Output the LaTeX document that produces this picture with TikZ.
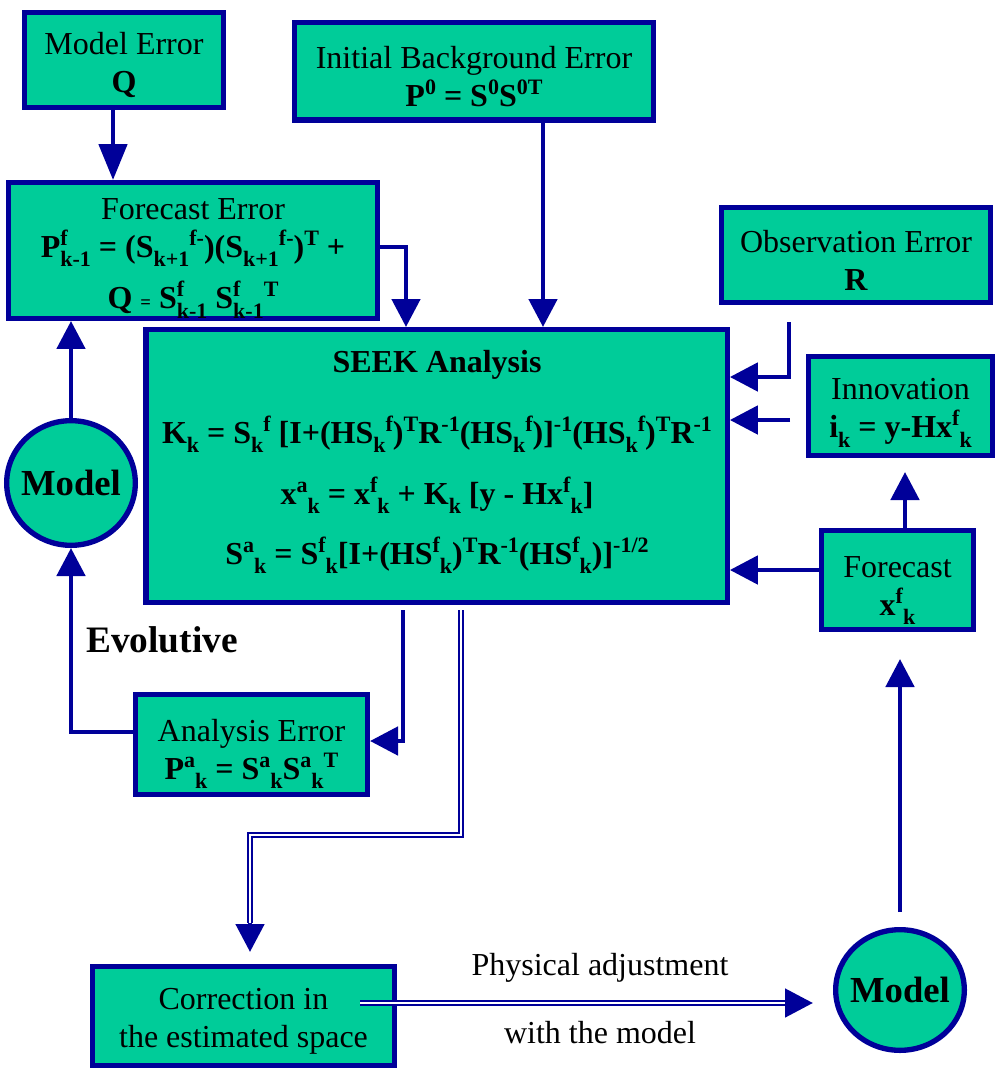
\documentclass[tikz,border=0pt]{standalone}
\usepackage{fontspec}
\setmainfont{Liberation Serif}
\usetikzlibrary{arrows.meta,shapes.geometric}
\definecolor{bxgreen}{RGB}{0,204,153}
\definecolor{bxblue}{RGB}{0,0,153}
\newcommand{\Up}[1]{\smash{\raisebox{0.37em}{\fontsize{16.5}{16.5}\selectfont #1}}}
\newcommand{\Dn}[1]{\smash{\raisebox{-0.3em}{\fontsize{16.5}{16.5}\selectfont #1}}}
\newcommand{\UpDn}[2]{\rlap{\Up{#1}}\Dn{#2}}
\newcommand{\Tp}{\rule{0pt}{24pt}}
\begin{document}
\begin{tikzpicture}[x=0.75pt,y=-0.75pt,
  box/.style={draw=bxblue, fill=bxgreen, line width=4pt, align=center, inner sep=0pt, font=\fontsize{24}{28.5}\selectfont},
  ell/.style={ellipse, draw=bxblue, fill=bxgreen, line width=4pt, inner sep=0pt, font=\bfseries\fontsize{27.5}{27.5}\selectfont},
  arr/.style={draw=bxblue, line width=3.6pt, -{Triangle[width=21pt,length=21pt]}},
  dbl/.style={draw=bxblue, line width=1.2pt, double=white, double distance=1.6pt},
  lbl/.style={font=\fontsize{24}{28.5}\selectfont, inner sep=0pt}]
\useasboundingbox (0,0) rectangle (997,1070);

\node[box, minimum width=149pt, minimum height=71pt] (mE) at (124,60) {\Tp Model Error\\\textbf{Q}};
\node[box, minimum width=269pt, minimum height=73pt] (iB) at (474,71.5) {\Tp Initial Background Error\\\textbf{P\Up{0} = S\Up{0}S\Up{0T}}};
\node[box, minimum width=276.5pt, minimum height=101.7pt] (fE) at (193,250.5) {\Tp Forecast Error\\\textbf{P\UpDn{f}{k-1} = (S\Dn{k+1}\Up{f-})(S\Dn{k+1}\Up{f-})\Up{T} +}\\[10pt]\textbf{Q {\fontsize{14}{14}\selectfont =} S\UpDn{f}{k-1} S\UpDn{f}{k-1}\Up{T}}};
\node[box, minimum width=436pt, minimum height=204.5pt] (seek) at (436.5,466) {};
\node[lbl, anchor=base] (seekT) at (437,372) {\textbf{SEEK Analysis}};
\node[lbl, anchor=base] (seekK) at (437,443) {\textbf{K\Dn{k} = S\Dn{k}\Up{f} [I+(HS\Dn{k}\Up{f})\Up{T}R\Up{-1}(HS\Dn{k}\Up{f})]\Up{-1}(HS\Dn{k}\Up{f})\Up{T}R\Up{-1}}};
\node[lbl, anchor=base] (seekX) at (437,504) {\textbf{x\Up{a}\Dn{k} = x\Up{f}\Dn{k} + K\Dn{k} [y - Hx\Up{f}\Dn{k}]}};
\node[lbl, anchor=base] (seekS) at (437,564) {\textbf{S\Up{a}\Dn{k} = S\Up{f}\Dn{k}[I+(HS\Up{f}\Dn{k})\Up{T}R\Up{-1}(HS\Up{f}\Dn{k})]\Up{-1/2}}};
\node[box, minimum width=201.5pt, minimum height=71pt] (oE) at (856,255) {\Tp Observation Error\\\textbf{R}};
\node[box, minimum width=137.75pt, minimum height=74pt] (inn) at (900.5,406) {\Tp Innovation\\\textbf{i\Dn{k} = y-Hx\Up{f}\Dn{k}}};
\node[box, minimum width=113.75pt, minimum height=74pt] (fc) at (897.5,580) {\Tp Forecast\\\textbf{x\Up{f}\Dn{k}}};
\node[box, minimum width=173.75pt, minimum height=74.75pt] (an) at (251.5,744.5) {\Tp Analysis Error\\\textbf{P\Up{a}\Dn{k} = S\Up{a}\Dn{k}S\Up{a}\Dn{k}\Up{T}}};
\node[box, minimum width=226.25pt, minimum height=74pt] (co) at (243.5,1016) {\Tp Correction in\\the estimated space};
\node[ell, minimum width=96.5pt, minimum height=93.5pt] (mL) at (71,483) {\makebox[0pt]{Model}};
\node[ell, minimum width=96.5pt, minimum height=90.5pt] (mR) at (900,990) {\makebox[0pt]{Model}};
\node[font=\bfseries\fontsize{28}{28}\selectfont, inner sep=0pt] (ev) at (162,640) {Evolutive};
\node[lbl] (pa) at (600,968) {Physical adjustment};
\node[lbl] (wm) at (600,1033) {with the model};

% connectors
\coordinate (xa) at (113,0);
\draw[arr, -{Triangle[width=21pt,length=27pt]}] (xa |- mE.south) -- (xa |- fE.north);
\coordinate (xb) at (543,0);
\draw[arr] (xb |- iB.south) -- (xb |- seek.north);
\coordinate (fc1) at (406,247);
\draw[arr] (fc1 -| fE.east) -- (fc1) -- (fc1 |- seek.north);
\coordinate (od) at (789,322);
\coordinate (yo) at (0,377);
\draw[arr] (od) |- (yo -| seek.east);
\coordinate (ic) at (790,420);
\draw[arr] (ic) -- (ic -| seek.east);
\coordinate (yf) at (0,570);
\draw[arr] (yf -| fc.west) -- (yf -| seek.east);
\coordinate (ifc) at (905,472);
\draw[arr] (ifc |- fc.north) -- (ifc);
\coordinate (mr1) at (900,912);
\coordinate (mr2) at (900,659);
\draw[arr] (mr1) -- (mr2);
\draw[arr] (mL.north) -- (mL.north |- fE.south);
\coordinate (ya) at (0,732);
\draw[arr] (ya -| an.west) -| (mL.south);
\coordinate (sa) at (403,610);
\coordinate (ya2) at (0,741);
\draw[arr] (sa) |- (ya2 -| an.east);
% double connectors
\coordinate (dd) at (461,610);
\coordinate (dc) at (250,835);
\coordinate (db) at (250,923);
\coordinate (dt) at (250,952);
\draw[dbl] (dd) |- (dc) -- (db);
\draw[arr] (db) -- (dt);
\coordinate (ca) at (360,1003);
\coordinate (cb) at (785,1003);
\coordinate (cc) at (813,1003);
\draw[dbl] (ca) -- (cb);
\draw[arr] (cb) -- (cc);
\end{tikzpicture}
\end{document}
